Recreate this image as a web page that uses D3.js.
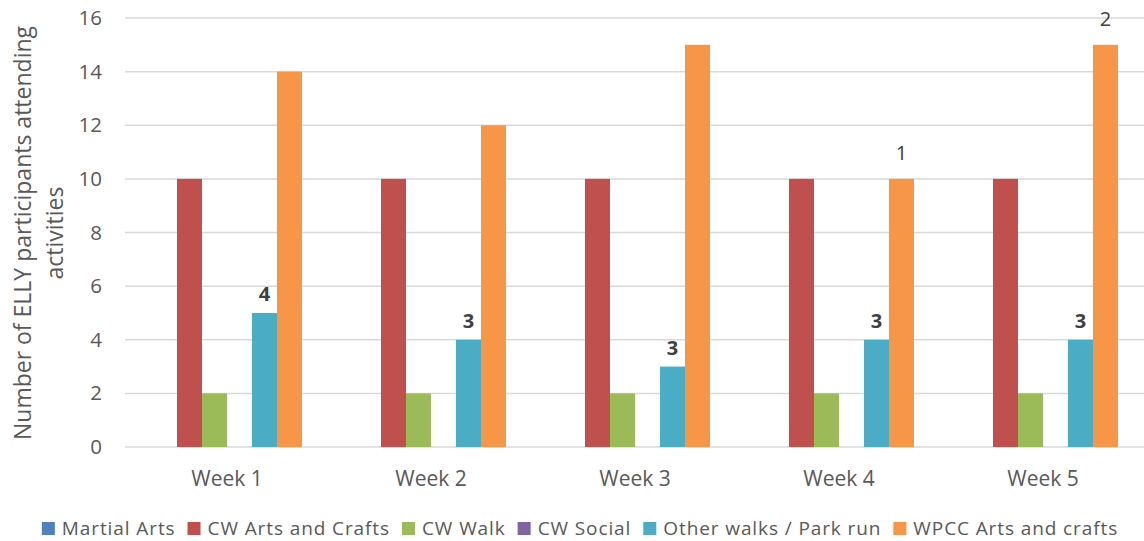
<!DOCTYPE html>
<html><head><meta charset="utf-8">
<script src="https://cdn.jsdelivr.net/npm/d3@7"></script>
<style>body{margin:0;background:#fff}svg{display:block;font-family:"Open Sans",sans-serif}</style>
</head><body><svg id="c" width="1144" height="541"></svg>
<script>
const weeks = ["Week 1","Week 2","Week 3","Week 4","Week 5"];
const seriesNames = ["Martial Arts","CW Arts and Crafts","CW Walk","CW Social","Other walks / Park run","WPCC Arts and crafts"];
const seriesColors = ["#4f81bd","#c0504d","#9bbb59","#8064a2","#4bacc6","#f79646"];
const martialArts = [0,0,0,0,0];
const cwArts = [10,10,10,10,10];
const cwWalk = [2,2,2,2,2];
const cwSocial = [0,0,0,0,0];
const otherWalks = [5,4,3,4,4];
const wpcc = [14,12,15,10,15];
const yTicks = [0,2,4,6,8,10,12,14,16];
// annotation labels: [series index, week index, text, bold]
const notes = [[4,0,"4",true],[4,1,"3",true],[4,2,"3",true],[4,3,"3",true],[4,4,"3",true],[5,3,"1",false],[5,4,"2",false]];

const values = [martialArts,cwArts,cwWalk,cwSocial,otherWalks,wpcc];
const svg = d3.select("#c");
const L=125,R=1145,T=18,B=447;
const x0 = d3.scaleBand().domain(weeks).range([L,R]).paddingInner(0).paddingOuter(0);
const x1 = d3.scaleBand().domain(d3.range(seriesNames.length)).range([27,x0.bandwidth()-27]);
const y = d3.scaleLinear().domain([0,16]).range([B,T]);

svg.append("g").selectAll("line").data(yTicks).join("line")
 .attr("x1",L).attr("x2",1144).attr("y1",d=>y(d)).attr("y2",d=>y(d))
 .attr("stroke","#d9d9d9").attr("stroke-width",1.5);

const yAxis = svg.append("g").attr("transform",`translate(${L},0)`).call(d3.axisLeft(y).tickValues(yTicks).tickSize(0).tickPadding(23));
yAxis.select(".domain").remove();
yAxis.selectAll("text").attr("font-family","Open Sans").attr("font-size",20.5).attr("fill","#595959");

const xAxis = svg.append("g").attr("transform",`translate(0,${B})`).call(d3.axisBottom(x0).tickSize(0).tickPadding(24));
xAxis.select(".domain").remove();
xAxis.selectAll("text").attr("font-family","Open Sans").attr("font-size",21).attr("fill","#595959");

const g = svg.append("g");
weeks.forEach((w,wi)=>{
  values.forEach((arr,si)=>{
    if(arr[wi]<=0) return;
    g.append("rect").attr("x",x0(w)+x1(si)).attr("width",x1.bandwidth())
     .attr("y",y(arr[wi])).attr("height",y(0)-y(arr[wi])).attr("fill",seriesColors[si]);
  });
});

notes.forEach(([si,wi,t,b])=>{
  svg.append("text").attr("x",x0(weeks[wi])+x1(si)+x1.bandwidth()/2)
   .attr("y",y(values[si][wi])-(b?12:19)).attr("text-anchor","middle")
   .attr("font-size",20).attr("font-weight",b?"bold":"normal").attr("fill","#404040").text(t);
});

svg.append("text").attr("transform","translate(31,233) rotate(-90)").attr("text-anchor","middle")
 .attr("font-size",23).attr("fill","#595959").text("Number of ELLY participants attending");
svg.append("text").attr("transform","translate(63,233) rotate(-90)").attr("text-anchor","middle")
 .attr("font-size",23).attr("fill","#595959").text("activities");

const lg = svg.append("g");
let cx = 0;
seriesNames.forEach((n,i)=>{
  const it = lg.append("g").attr("transform",`translate(${cx},0)`);
  it.append("rect").attr("x",0).attr("y",-13).attr("width",13).attr("height",13).attr("fill",seriesColors[i]);
  const t = it.append("text").attr("x",20).attr("y",0).attr("font-size",19).attr("letter-spacing",0.9).attr("fill","#595959").text(n);
  cx += 20 + t.node().getComputedTextLength() + 12;
});
cx -= 12;
lg.attr("transform",`translate(${(42+1118)/2 - cx/2},535)`);
</script></body></html>
